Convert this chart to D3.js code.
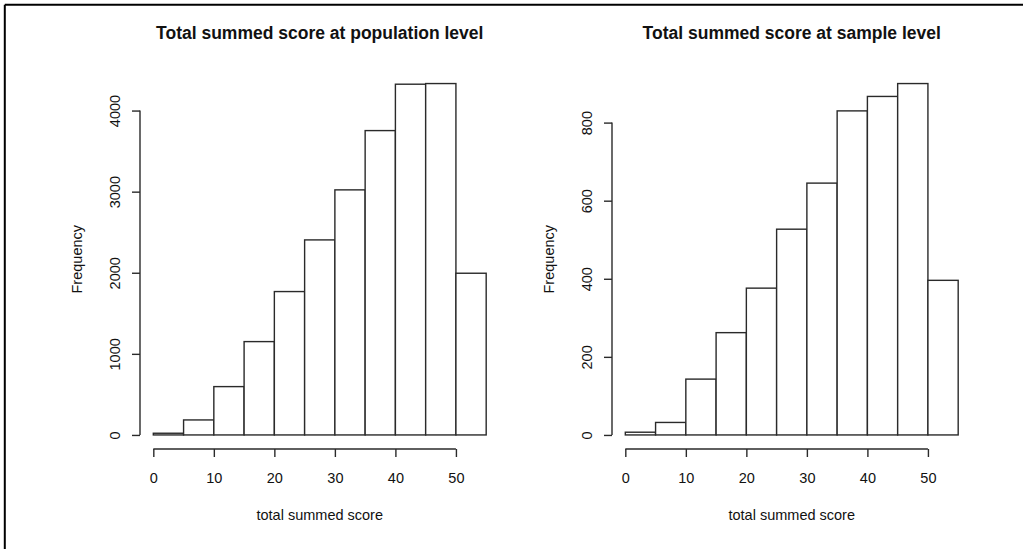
<!DOCTYPE html>
<html>
<head>
<meta charset="utf-8">
<script src="https://cdn.jsdelivr.net/npm/d3@7"></script>
<style>
  html, body { margin: 0; padding: 0; background: #fff; }
  svg { display: block; }
  text { font-family: "Liberation Sans", Arial, Helvetica, sans-serif; fill: #111; }
</style>
</head>
<body>
<svg id="chart" width="1023" height="549"></svg>
<script>
// Histogram bin breaks (shared by both panels)
const breaks = [0, 5, 10, 15, 20, 25, 30, 35, 40, 45, 50, 55];

// Counts per bin
const populationCounts = [21, 185, 596, 1151, 1768, 2405, 3022, 3753, 4325, 4333, 1994];
const sampleCounts     = [7, 32, 143, 262, 376, 527, 645, 830, 867, 900, 396];

// Tick labels
const xTicks = [0, 10, 20, 30, 40, 50];
const populationYTicks = [0, 1000, 2000, 3000, 4000];
const sampleYTicks = [0, 200, 400, 600, 800];

const titles = ["Total summed score at population level", "Total summed score at sample level"];
const xTitle = "total summed score";
const yTitle = "Frequency";

const svg = d3.select("#chart");
const W = 1023, H = 549;
const stroke = "#2a2a2a";
const fmt = d3.format("d");

// outer frame (top and left edges)
svg.append("line").attr("x1", 4.8).attr("x2", W).attr("y1", 4.8).attr("y2", 4.8)
  .attr("stroke", "#000").attr("stroke-width", 2);
svg.append("line").attr("x1", 4.8).attr("x2", 4.8).attr("y1", 4.8).attr("y2", H)
  .attr("stroke", "#000").attr("stroke-width", 2);

const panels = [
  { left: 140, counts: populationCounts, yTicks: populationYTicks, title: titles[0] },
  { left: 612, counts: sampleCounts,     yTicks: sampleYTicks,     title: titles[1] }
];

const plotW = 359.5, plotTop = 69.5, plotBottom = 449;
const fontSize = 14.5;

panels.forEach(p => {
  const xmin = breaks[0], xmax = breaks[breaks.length - 1];
  const xr = xmax - xmin;
  const x = d3.scaleLinear()
    .domain([xmin - 0.04 * xr, xmax + 0.04 * xr])
    .range([p.left, p.left + plotW]);
  const ymax = d3.max(p.counts);
  const y = d3.scaleLinear()
    .domain([-0.04 * ymax, 1.04 * ymax])
    .range([plotBottom, plotTop]);

  const g = svg.append("g");

  // bars
  const bins = p.counts.map((c, i) => ({ x0: breaks[i], x1: breaks[i + 1], n: c }));
  g.selectAll("rect.bar").data(bins).join("rect")
    .attr("class", "bar")
    .attr("x", d => x(d.x0))
    .attr("width", d => x(d.x1) - x(d.x0))
    .attr("y", d => y(d.n))
    .attr("height", d => y(0) - y(d.n))
    .attr("fill", "#fff")
    .attr("stroke", stroke)
    .attr("stroke-width", 1.4);

  // x axis
  const xAxis = g.append("g").attr("transform", `translate(0,${plotBottom})`)
    .call(d3.axisBottom(x).tickValues(xTicks).tickFormat(fmt).tickSize(8).tickPadding(8).tickSizeOuter(0));
  xAxis.select(".domain").attr("d", `M${x(xTicks[0])},0H${x(xTicks[xTicks.length - 1])}`)
    .attr("stroke", stroke).attr("stroke-width", 1.4);
  xAxis.selectAll(".tick line").attr("stroke", stroke).attr("stroke-width", 1.4);
  xAxis.selectAll(".tick text")
    .attr("font-size", fontSize).attr("font-family", "Liberation Sans, Arial, sans-serif")
    .attr("fill", "#111").attr("dy", null).attr("y", 33.5);

  // y axis
  const yAxis = g.append("g").attr("transform", `translate(${p.left},0)`)
    .call(d3.axisLeft(y).tickValues(p.yTicks).tickFormat(fmt).tickSize(8).tickSizeOuter(0));
  const yt = p.yTicks;
  yAxis.select(".domain").attr("d", `M0,${y(yt[0])}V${y(yt[yt.length - 1])}`)
    .attr("stroke", stroke).attr("stroke-width", 1.4);
  yAxis.selectAll(".tick line").attr("stroke", stroke).attr("stroke-width", 1.4);
  yAxis.selectAll(".tick text")
    .attr("font-size", fontSize).attr("font-family", "Liberation Sans, Arial, sans-serif")
    .attr("fill", "#111")
    .attr("x", null).attr("dy", null)
    .attr("text-anchor", "middle")
    .attr("transform", "translate(-20,0) rotate(-90)");

  // axis titles
  g.append("text")
    .attr("x", p.left + plotW / 2).attr("y", 520)
    .attr("text-anchor", "middle").attr("font-size", fontSize)
    .text(xTitle);
  g.append("text")
    .attr("transform", `translate(${p.left - 58.5},${(plotTop + plotBottom) / 2}) rotate(-90)`)
    .attr("text-anchor", "middle").attr("font-size", fontSize)
    .text(yTitle);

  // main title
  g.append("text")
    .attr("x", p.left + plotW / 2).attr("y", 39)
    .attr("text-anchor", "middle").attr("font-size", 17.5).attr("font-weight", "bold")
    .text(p.title);
});
</script>
</body>
</html>
